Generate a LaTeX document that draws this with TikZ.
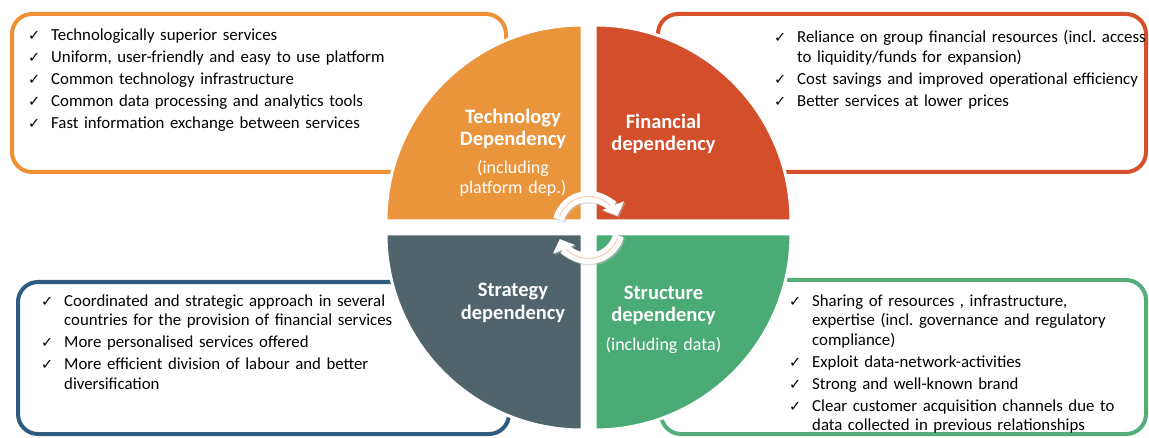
\documentclass[tikz,border=0pt]{standalone}
\usepackage{fontspec}
\setmainfont{Carlito}
\newfontfamily\symfont{DejaVu Sans}
\usetikzlibrary{arrows.meta, shadows, calc}

\definecolor{techfill}{HTML}{EA953C}
\definecolor{finfill}{HTML}{D34E2A}
\definecolor{stratfill}{HTML}{50646B}
\definecolor{structfill}{HTML}{4AAB74}
\definecolor{techline}{HTML}{EE9033}
\definecolor{finline}{HTML}{D5502B}
\definecolor{stratline}{HTML}{2E5C80}
\definecolor{structline}{HTML}{55AE7A}
\definecolor{peach}{HTML}{F6D2C0}

\newcommand{\chkmark}{\makebox[23pt][l]{\symfont\fontsize{14.5}{14.5}\selectfont ✓}}
\newcommand{\chkitem}[1]{\hangindent=23pt\hangafter=1\noindent\chkmark#1\par}

\tikzstyle{listbox} = [rounded corners=20pt, line width=4pt, fill=white, drop shadow={shadow xshift=1.5pt, shadow yshift=-1.5pt, opacity=0.25}]
\tikzstyle{quarter} = [draw=white, line width=3pt, drop shadow={shadow xshift=1pt, shadow yshift=-1pt, opacity=0.35}]
\tikzstyle{listtext} = [anchor=base west, inner sep=0pt, text width=380pt, align=left, font=\fontsize{16.8}{19.5}\selectfont\frenchspacing\setlength{\parskip}{2.5pt}]
\tikzstyle{title} = [anchor=base, inner sep=0pt, text width=170pt, align=center, text=white, font=\bfseries\fontsize{20.5}{22}\selectfont]
\tikzstyle{subtitle} = [anchor=base, inner sep=0pt, text width=170pt, align=center, text=white, font=\fontsize{18}{20}\selectfont]
\tikzstyle{turnarrow} = [white, line width=11pt, -{Triangle[width=23pt,length=11pt]}]

\begin{document}
\begin{tikzpicture}[x=1pt, y=1pt]
\useasboundingbox (0,0) rectangle (1149,437);

% boxes behind the wheel
\draw[listbox, draw=techline] (12,265) rectangle (506,423);
\draw[listbox, draw=finline] (658,265) rectangle (1146,423);
\draw[listbox, draw=stratline] (18,3) rectangle (509,155);
\draw[listbox, draw=structline] (661,3) rectangle (1146,157);

\node[listtext] (techlist) at (28,396) {%
\chkitem{Technologically superior services}
\chkitem{Uniform, user-friendly and easy to use platform}
\chkitem{Common technology infrastructure}
\chkitem{Common data processing and analytics tools}
\chkitem{Fast information exchange between services}};

\node[listtext] (finlist) at (774,394) {%
\chkitem{Reliance on group financial resources (incl. access\newline to liquidity/funds for expansion)}
\chkitem{Cost savings and improved operational efficiency}
\chkitem{Better services at lower prices}};

\node[listtext] (stratlist) at (41,131) {%
\chkitem{Coordinated and strategic approach in several\newline countries for the provision of financial services}
\chkitem{More personalised services offered}
\chkitem{More efficient division of labour and better\newline diversification}};

\node[listtext] (structlist) at (789,131) {%
\chkitem{Sharing of resources , infrastructure,\newline expertise (incl. governance and regulatory\newline compliance)}
\chkitem{Exploit data-network-activities}
\chkitem{Strong and well-known brand}
\chkitem{Clear customer acquisition channels due to\newline data collected in previous relationships}};

% the wheel
\coordinate (hub) at (588.5,209.5);
\fill[quarter, fill=techfill] ($(hub)+(-6.5,6.5)$) -- ++(-196,0) arc[start angle=180, end angle=90, radius=196] -- cycle;
\fill[quarter, fill=finfill] ($(hub)+(6.5,6.5)$) -- ++(0,196) arc[start angle=90, end angle=0, radius=196] -- cycle;
\fill[quarter, fill=stratfill] ($(hub)+(-6.5,-6.5)$) -- ++(-196,0) arc[start angle=180, end angle=270, radius=196] -- cycle;
\fill[quarter, fill=structfill] ($(hub)+(6.5,-6.5)$) -- ++(196,0) arc[start angle=0, end angle=-90, radius=196] -- cycle;

\node[title] (techT) at (513,313) {Technology\\Dependency};
\node[subtitle] (techS) at (513,263) {(including\\platform dep.)};
\node[title] (finT) at (663.5,308) {Financial\\dependency};
\node[title] (stratT) at (513,140) {Strategy\\dependency};
\node[title] (structT) at (663.5,138) {Structure\\dependency};
\node[subtitle] (structS) at (663.5,87) {(including data)};

% turning arrows
\draw[turnarrow, black!25, opacity=0.5] ($(hub)+(165:31)+(1.5,-1.5)$) arc[start angle=165, end angle=22, radius=31];
\draw[turnarrow, black!25, opacity=0.5] ($(hub)+(-15:31)+(1.5,-1.5)$) arc[start angle=-15, end angle=-158, radius=31];
\draw[turnarrow] ($(hub)+(165:31)$) arc[start angle=165, end angle=22, radius=31];
\draw[turnarrow] ($(hub)+(-15:31)$) arc[start angle=-15, end angle=-158, radius=31];
\draw[peach, line width=1.2pt] ($(hub)+(160:31)$) arc[start angle=160, end angle=45, radius=31];
\draw[peach, line width=1.2pt] ($(hub)+(-20:31)$) arc[start angle=-20, end angle=-135, radius=31];
\end{tikzpicture}
\end{document}
